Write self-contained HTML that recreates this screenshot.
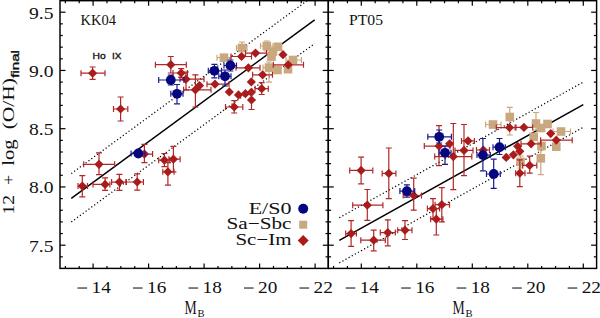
<!DOCTYPE html>
<html><head><meta charset="utf-8"><style>
html,body{margin:0;padding:0;background:#fff;width:600px;height:318px;overflow:hidden}
svg{display:block}
.t{font-family:"Liberation Serif",serif;fill:#111}
.s{font-family:"Liberation Sans",sans-serif;fill:#111;stroke:#111;stroke-width:0.35}
</style></head><body>
<svg width="600" height="318" viewBox="0 0 600 318">
<rect width="600" height="318" fill="#fff"/>
<defs>
<clipPath id="cl"><rect x="60" y="0.7" width="268.3" height="267.7"/></clipPath>
<clipPath id="cr"><rect x="328.3" y="0.7" width="268.3" height="267.7"/></clipPath>
</defs>
<g clip-path="url(#cl)">
<line x1="71.3" y1="198.3" x2="314.7" y2="19.8" stroke="#000" stroke-width="1.5"/><line x1="71.3" y1="173.60000000000002" x2="314.7" y2="-4.899999999999999" stroke="#000" stroke-width="1.25" stroke-dasharray="1.2 2.35"/><line x1="71.3" y1="222.0" x2="314.7" y2="43.5" stroke="#000" stroke-width="1.25" stroke-dasharray="1.2 2.35"/>
<line x1="236.50" y1="48.00" x2="247.00" y2="48.00" stroke="#c9a77f" stroke-width="1.2" /><line x1="236.50" y1="45.00" x2="236.50" y2="51.00" stroke="#c9a77f" stroke-width="1.2" /><line x1="247.00" y1="45.00" x2="247.00" y2="51.00" stroke="#c9a77f" stroke-width="1.2" /><line x1="242.00" y1="42.00" x2="242.00" y2="55.00" stroke="#c9a77f" stroke-width="1.2" /><line x1="239.00" y1="42.00" x2="245.00" y2="42.00" stroke="#c9a77f" stroke-width="1.2" /><line x1="239.00" y1="55.00" x2="245.00" y2="55.00" stroke="#c9a77f" stroke-width="1.2" /><rect x="237.70" y="43.70" width="8.60" height="8.60" fill="#c9a77f"/><line x1="260.50" y1="46.00" x2="273.00" y2="46.00" stroke="#c9a77f" stroke-width="1.2" /><line x1="260.50" y1="43.00" x2="260.50" y2="49.00" stroke="#c9a77f" stroke-width="1.2" /><line x1="273.00" y1="43.00" x2="273.00" y2="49.00" stroke="#c9a77f" stroke-width="1.2" /><line x1="266.80" y1="41.00" x2="266.80" y2="51.00" stroke="#c9a77f" stroke-width="1.2" /><line x1="263.80" y1="41.00" x2="269.80" y2="41.00" stroke="#c9a77f" stroke-width="1.2" /><line x1="263.80" y1="51.00" x2="269.80" y2="51.00" stroke="#c9a77f" stroke-width="1.2" /><rect x="262.50" y="41.70" width="8.60" height="8.60" fill="#c9a77f"/><rect x="273.70" y="42.50" width="8.60" height="8.60" fill="#c9a77f"/><rect x="267.20" y="52.30" width="8.60" height="8.60" fill="#c9a77f"/><rect x="268.70" y="47.20" width="8.60" height="8.60" fill="#c9a77f"/><line x1="263.00" y1="67.60" x2="275.00" y2="67.60" stroke="#c9a77f" stroke-width="1.2" /><line x1="263.00" y1="64.60" x2="263.00" y2="70.60" stroke="#c9a77f" stroke-width="1.2" /><line x1="275.00" y1="64.60" x2="275.00" y2="70.60" stroke="#c9a77f" stroke-width="1.2" /><line x1="269.00" y1="62.00" x2="269.00" y2="82.20" stroke="#c9a77f" stroke-width="1.2" /><line x1="266.00" y1="62.00" x2="272.00" y2="62.00" stroke="#c9a77f" stroke-width="1.2" /><line x1="266.00" y1="82.20" x2="272.00" y2="82.20" stroke="#c9a77f" stroke-width="1.2" /><rect x="264.70" y="63.30" width="8.60" height="8.60" fill="#c9a77f"/><rect x="273.20" y="65.70" width="8.60" height="8.60" fill="#c9a77f"/><line x1="286.00" y1="60.00" x2="301.40" y2="60.00" stroke="#c9a77f" stroke-width="1.2" /><line x1="286.00" y1="57.00" x2="286.00" y2="63.00" stroke="#c9a77f" stroke-width="1.2" /><line x1="301.40" y1="57.00" x2="301.40" y2="63.00" stroke="#c9a77f" stroke-width="1.2" /><rect x="288.70" y="55.70" width="8.60" height="8.60" fill="#c9a77f"/><rect x="283.70" y="64.90" width="8.60" height="8.60" fill="#c9a77f"/><line x1="217.00" y1="57.70" x2="231.00" y2="57.70" stroke="#c9a77f" stroke-width="1.2" /><line x1="217.00" y1="54.70" x2="217.00" y2="60.70" stroke="#c9a77f" stroke-width="1.2" /><line x1="231.00" y1="54.70" x2="231.00" y2="60.70" stroke="#c9a77f" stroke-width="1.2" /><rect x="219.70" y="53.40" width="8.60" height="8.60" fill="#c9a77f"/><line x1="81.00" y1="73.20" x2="105.00" y2="73.20" stroke="#b02828" stroke-width="1.2" /><line x1="81.00" y1="70.20" x2="81.00" y2="76.20" stroke="#b02828" stroke-width="1.2" /><line x1="105.00" y1="70.20" x2="105.00" y2="76.20" stroke="#b02828" stroke-width="1.2" /><line x1="92.60" y1="67.00" x2="92.60" y2="79.40" stroke="#b02828" stroke-width="1.2" /><line x1="89.60" y1="67.00" x2="95.60" y2="67.00" stroke="#b02828" stroke-width="1.2" /><line x1="89.60" y1="79.40" x2="95.60" y2="79.40" stroke="#b02828" stroke-width="1.2" /><path d="M92.60 68.60L97.20 73.20L92.60 77.80L88.00 73.20Z" fill="#aa1c1c"/><line x1="113.50" y1="109.00" x2="127.80" y2="109.00" stroke="#b02828" stroke-width="1.2" /><line x1="113.50" y1="106.00" x2="113.50" y2="112.00" stroke="#b02828" stroke-width="1.2" /><line x1="127.80" y1="106.00" x2="127.80" y2="112.00" stroke="#b02828" stroke-width="1.2" /><line x1="120.60" y1="97.00" x2="120.60" y2="121.00" stroke="#b02828" stroke-width="1.2" /><line x1="117.60" y1="97.00" x2="123.60" y2="97.00" stroke="#b02828" stroke-width="1.2" /><line x1="117.60" y1="121.00" x2="123.60" y2="121.00" stroke="#b02828" stroke-width="1.2" /><path d="M120.60 104.40L125.20 109.00L120.60 113.60L116.00 109.00Z" fill="#aa1c1c"/><line x1="83.70" y1="164.30" x2="114.70" y2="164.30" stroke="#b02828" stroke-width="1.2" /><line x1="83.70" y1="161.30" x2="83.70" y2="167.30" stroke="#b02828" stroke-width="1.2" /><line x1="114.70" y1="161.30" x2="114.70" y2="167.30" stroke="#b02828" stroke-width="1.2" /><line x1="99.00" y1="152.80" x2="99.00" y2="174.70" stroke="#b02828" stroke-width="1.2" /><line x1="96.00" y1="152.80" x2="102.00" y2="152.80" stroke="#b02828" stroke-width="1.2" /><line x1="96.00" y1="174.70" x2="102.00" y2="174.70" stroke="#b02828" stroke-width="1.2" /><path d="M99.00 159.70L103.60 164.30L99.00 168.90L94.40 164.30Z" fill="#aa1c1c"/><line x1="78.00" y1="186.10" x2="87.50" y2="186.10" stroke="#b02828" stroke-width="1.2" /><line x1="78.00" y1="183.10" x2="78.00" y2="189.10" stroke="#b02828" stroke-width="1.2" /><line x1="87.50" y1="183.10" x2="87.50" y2="189.10" stroke="#b02828" stroke-width="1.2" /><line x1="82.30" y1="175.70" x2="82.30" y2="196.80" stroke="#b02828" stroke-width="1.2" /><line x1="79.30" y1="175.70" x2="85.30" y2="175.70" stroke="#b02828" stroke-width="1.2" /><line x1="79.30" y1="196.80" x2="85.30" y2="196.80" stroke="#b02828" stroke-width="1.2" /><path d="M82.30 181.50L86.90 186.10L82.30 190.70L77.70 186.10Z" fill="#aa1c1c"/><line x1="93.00" y1="184.40" x2="109.90" y2="184.40" stroke="#b02828" stroke-width="1.2" /><line x1="93.00" y1="181.40" x2="93.00" y2="187.40" stroke="#b02828" stroke-width="1.2" /><line x1="109.90" y1="181.40" x2="109.90" y2="187.40" stroke="#b02828" stroke-width="1.2" /><line x1="105.10" y1="177.80" x2="105.10" y2="190.30" stroke="#b02828" stroke-width="1.2" /><line x1="102.10" y1="177.80" x2="108.10" y2="177.80" stroke="#b02828" stroke-width="1.2" /><line x1="102.10" y1="190.30" x2="108.10" y2="190.30" stroke="#b02828" stroke-width="1.2" /><path d="M105.10 179.80L109.70 184.40L105.10 189.00L100.50 184.40Z" fill="#aa1c1c"/><line x1="111.60" y1="182.10" x2="126.30" y2="182.10" stroke="#b02828" stroke-width="1.2" /><line x1="111.60" y1="179.10" x2="111.60" y2="185.10" stroke="#b02828" stroke-width="1.2" /><line x1="126.30" y1="179.10" x2="126.30" y2="185.10" stroke="#b02828" stroke-width="1.2" /><line x1="119.40" y1="174.40" x2="119.40" y2="190.30" stroke="#b02828" stroke-width="1.2" /><line x1="116.40" y1="174.40" x2="122.40" y2="174.40" stroke="#b02828" stroke-width="1.2" /><line x1="116.40" y1="190.30" x2="122.40" y2="190.30" stroke="#b02828" stroke-width="1.2" /><path d="M119.40 177.50L124.00 182.10L119.40 186.70L114.80 182.10Z" fill="#aa1c1c"/><line x1="126.00" y1="182.00" x2="143.40" y2="182.00" stroke="#b02828" stroke-width="1.2" /><line x1="126.00" y1="179.00" x2="126.00" y2="185.00" stroke="#b02828" stroke-width="1.2" /><line x1="143.40" y1="179.00" x2="143.40" y2="185.00" stroke="#b02828" stroke-width="1.2" /><line x1="137.20" y1="173.90" x2="137.20" y2="190.20" stroke="#b02828" stroke-width="1.2" /><line x1="134.20" y1="173.90" x2="140.20" y2="173.90" stroke="#b02828" stroke-width="1.2" /><line x1="134.20" y1="190.20" x2="140.20" y2="190.20" stroke="#b02828" stroke-width="1.2" /><path d="M137.20 177.40L141.80 182.00L137.20 186.60L132.60 182.00Z" fill="#aa1c1c"/><line x1="136.00" y1="154.10" x2="152.60" y2="154.10" stroke="#b02828" stroke-width="1.2" /><line x1="136.00" y1="151.10" x2="136.00" y2="157.10" stroke="#b02828" stroke-width="1.2" /><line x1="152.60" y1="151.10" x2="152.60" y2="157.10" stroke="#b02828" stroke-width="1.2" /><line x1="144.40" y1="144.30" x2="144.40" y2="162.70" stroke="#b02828" stroke-width="1.2" /><line x1="141.40" y1="144.30" x2="147.40" y2="144.30" stroke="#b02828" stroke-width="1.2" /><line x1="141.40" y1="162.70" x2="147.40" y2="162.70" stroke="#b02828" stroke-width="1.2" /><path d="M144.40 149.50L149.00 154.10L144.40 158.70L139.80 154.10Z" fill="#aa1c1c"/><line x1="158.70" y1="160.20" x2="169.90" y2="160.20" stroke="#b02828" stroke-width="1.2" /><line x1="158.70" y1="157.20" x2="158.70" y2="163.20" stroke="#b02828" stroke-width="1.2" /><line x1="169.90" y1="157.20" x2="169.90" y2="163.20" stroke="#b02828" stroke-width="1.2" /><line x1="164.40" y1="153.50" x2="164.40" y2="166.70" stroke="#b02828" stroke-width="1.2" /><line x1="161.40" y1="153.50" x2="167.40" y2="153.50" stroke="#b02828" stroke-width="1.2" /><line x1="161.40" y1="166.70" x2="167.40" y2="166.70" stroke="#b02828" stroke-width="1.2" /><path d="M164.40 155.60L169.00 160.20L164.40 164.80L159.80 160.20Z" fill="#aa1c1c"/><line x1="168.90" y1="159.20" x2="180.10" y2="159.20" stroke="#b02828" stroke-width="1.2" /><line x1="168.90" y1="156.20" x2="168.90" y2="162.20" stroke="#b02828" stroke-width="1.2" /><line x1="180.10" y1="156.20" x2="180.10" y2="162.20" stroke="#b02828" stroke-width="1.2" /><line x1="173.40" y1="146.30" x2="173.40" y2="171.80" stroke="#b02828" stroke-width="1.2" /><line x1="170.40" y1="146.30" x2="176.40" y2="146.30" stroke="#b02828" stroke-width="1.2" /><line x1="170.40" y1="171.80" x2="176.40" y2="171.80" stroke="#b02828" stroke-width="1.2" /><path d="M173.40 154.60L178.00 159.20L173.40 163.80L168.80 159.20Z" fill="#aa1c1c"/><line x1="162.80" y1="171.80" x2="174.00" y2="171.80" stroke="#b02828" stroke-width="1.2" /><line x1="162.80" y1="168.80" x2="162.80" y2="174.80" stroke="#b02828" stroke-width="1.2" /><line x1="174.00" y1="168.80" x2="174.00" y2="174.80" stroke="#b02828" stroke-width="1.2" /><line x1="167.90" y1="162.70" x2="167.90" y2="185.10" stroke="#b02828" stroke-width="1.2" /><line x1="164.90" y1="162.70" x2="170.90" y2="162.70" stroke="#b02828" stroke-width="1.2" /><line x1="164.90" y1="185.10" x2="170.90" y2="185.10" stroke="#b02828" stroke-width="1.2" /><path d="M167.90 167.20L172.50 171.80L167.90 176.40L163.30 171.80Z" fill="#aa1c1c"/><line x1="155.40" y1="64.70" x2="186.30" y2="64.70" stroke="#b02828" stroke-width="1.2" /><line x1="155.40" y1="61.70" x2="155.40" y2="67.70" stroke="#b02828" stroke-width="1.2" /><line x1="186.30" y1="61.70" x2="186.30" y2="67.70" stroke="#b02828" stroke-width="1.2" /><line x1="170.80" y1="56.50" x2="170.80" y2="73.00" stroke="#b02828" stroke-width="1.2" /><line x1="167.80" y1="56.50" x2="173.80" y2="56.50" stroke="#b02828" stroke-width="1.2" /><line x1="167.80" y1="73.00" x2="173.80" y2="73.00" stroke="#b02828" stroke-width="1.2" /><path d="M170.80 60.10L175.40 64.70L170.80 69.30L166.20 64.70Z" fill="#aa1c1c"/><line x1="173.00" y1="73.00" x2="187.40" y2="73.00" stroke="#b02828" stroke-width="1.2" /><line x1="173.00" y1="70.00" x2="173.00" y2="76.00" stroke="#b02828" stroke-width="1.2" /><line x1="187.40" y1="70.00" x2="187.40" y2="76.00" stroke="#b02828" stroke-width="1.2" /><line x1="181.20" y1="68.60" x2="181.20" y2="77.40" stroke="#b02828" stroke-width="1.2" /><line x1="178.20" y1="68.60" x2="184.20" y2="68.60" stroke="#b02828" stroke-width="1.2" /><line x1="178.20" y1="77.40" x2="184.20" y2="77.40" stroke="#b02828" stroke-width="1.2" /><path d="M181.20 68.40L185.80 73.00L181.20 77.60L176.60 73.00Z" fill="#aa1c1c"/><line x1="180.00" y1="79.20" x2="204.00" y2="79.20" stroke="#b02828" stroke-width="1.2" /><line x1="180.00" y1="76.20" x2="180.00" y2="82.20" stroke="#b02828" stroke-width="1.2" /><line x1="204.00" y1="76.20" x2="204.00" y2="82.20" stroke="#b02828" stroke-width="1.2" /><line x1="186.00" y1="72.00" x2="186.00" y2="90.00" stroke="#b02828" stroke-width="1.2" /><line x1="183.00" y1="72.00" x2="189.00" y2="72.00" stroke="#b02828" stroke-width="1.2" /><line x1="183.00" y1="90.00" x2="189.00" y2="90.00" stroke="#b02828" stroke-width="1.2" /><path d="M186.00 74.60L190.60 79.20L186.00 83.80L181.40 79.20Z" fill="#aa1c1c"/><line x1="183.60" y1="89.80" x2="211.00" y2="89.80" stroke="#b02828" stroke-width="1.2" /><line x1="183.60" y1="86.80" x2="183.60" y2="92.80" stroke="#b02828" stroke-width="1.2" /><line x1="211.00" y1="86.80" x2="211.00" y2="92.80" stroke="#b02828" stroke-width="1.2" /><line x1="195.40" y1="74.80" x2="195.40" y2="107.00" stroke="#b02828" stroke-width="1.2" /><line x1="192.40" y1="74.80" x2="198.40" y2="74.80" stroke="#b02828" stroke-width="1.2" /><line x1="192.40" y1="107.00" x2="198.40" y2="107.00" stroke="#b02828" stroke-width="1.2" /><path d="M195.40 85.20L200.00 89.80L195.40 94.40L190.80 89.80Z" fill="#aa1c1c"/><path d="M199.50 81.00L204.10 85.60L199.50 90.20L194.90 85.60Z" fill="#aa1c1c"/><line x1="207.00" y1="84.20" x2="229.00" y2="84.20" stroke="#b02828" stroke-width="1.2" /><line x1="207.00" y1="81.20" x2="207.00" y2="87.20" stroke="#b02828" stroke-width="1.2" /><line x1="229.00" y1="81.20" x2="229.00" y2="87.20" stroke="#b02828" stroke-width="1.2" /><path d="M215.00 79.60L219.60 84.20L215.00 88.80L210.40 84.20Z" fill="#aa1c1c"/><line x1="231.00" y1="56.50" x2="251.50" y2="56.50" stroke="#b02828" stroke-width="1.2" /><line x1="231.00" y1="53.50" x2="231.00" y2="59.50" stroke="#b02828" stroke-width="1.2" /><line x1="251.50" y1="53.50" x2="251.50" y2="59.50" stroke="#b02828" stroke-width="1.2" /><path d="M241.50 51.90L246.10 56.50L241.50 61.10L236.90 56.50Z" fill="#aa1c1c"/><line x1="245.50" y1="53.10" x2="266.50" y2="53.10" stroke="#b02828" stroke-width="1.2" /><line x1="245.50" y1="50.10" x2="245.50" y2="56.10" stroke="#b02828" stroke-width="1.2" /><line x1="266.50" y1="50.10" x2="266.50" y2="56.10" stroke="#b02828" stroke-width="1.2" /><path d="M255.50 48.50L260.10 53.10L255.50 57.70L250.90 53.10Z" fill="#aa1c1c"/><line x1="236.00" y1="67.80" x2="260.00" y2="67.80" stroke="#b02828" stroke-width="1.2" /><line x1="236.00" y1="64.80" x2="236.00" y2="70.80" stroke="#b02828" stroke-width="1.2" /><line x1="260.00" y1="64.80" x2="260.00" y2="70.80" stroke="#b02828" stroke-width="1.2" /><path d="M248.40 63.20L253.00 67.80L248.40 72.40L243.80 67.80Z" fill="#aa1c1c"/><line x1="252.60" y1="74.80" x2="272.50" y2="74.80" stroke="#b02828" stroke-width="1.2" /><line x1="252.60" y1="71.80" x2="252.60" y2="77.80" stroke="#b02828" stroke-width="1.2" /><line x1="272.50" y1="71.80" x2="272.50" y2="77.80" stroke="#b02828" stroke-width="1.2" /><path d="M262.60 70.20L267.20 74.80L262.60 79.40L258.00 74.80Z" fill="#aa1c1c"/><path d="M251.30 77.30L255.90 81.90L251.30 86.50L246.70 81.90Z" fill="#aa1c1c"/><line x1="255.00" y1="88.70" x2="268.30" y2="88.70" stroke="#b02828" stroke-width="1.2" /><line x1="255.00" y1="85.70" x2="255.00" y2="91.70" stroke="#b02828" stroke-width="1.2" /><line x1="268.30" y1="85.70" x2="268.30" y2="91.70" stroke="#b02828" stroke-width="1.2" /><line x1="261.70" y1="82.70" x2="261.70" y2="94.50" stroke="#b02828" stroke-width="1.2" /><line x1="258.70" y1="82.70" x2="264.70" y2="82.70" stroke="#b02828" stroke-width="1.2" /><line x1="258.70" y1="94.50" x2="264.70" y2="94.50" stroke="#b02828" stroke-width="1.2" /><path d="M261.70 84.10L266.30 88.70L261.70 93.30L257.10 88.70Z" fill="#aa1c1c"/><path d="M229.30 87.30L233.90 91.90L229.30 96.50L224.70 91.90Z" fill="#aa1c1c"/><path d="M238.50 90.30L243.10 94.90L238.50 99.50L233.90 94.90Z" fill="#aa1c1c"/><path d="M245.40 89.10L250.00 93.70L245.40 98.30L240.80 93.70Z" fill="#aa1c1c"/><path d="M251.30 87.70L255.90 92.30L251.30 96.90L246.70 92.30Z" fill="#aa1c1c"/><line x1="251.50" y1="92.00" x2="251.50" y2="109.50" stroke="#b02828" stroke-width="1.2" /><line x1="248.50" y1="92.00" x2="254.50" y2="92.00" stroke="#b02828" stroke-width="1.2" /><line x1="248.50" y1="109.50" x2="254.50" y2="109.50" stroke="#b02828" stroke-width="1.2" /><path d="M251.50 95.40L256.10 100.00L251.50 104.60L246.90 100.00Z" fill="#aa1c1c"/><line x1="225.50" y1="107.00" x2="242.80" y2="107.00" stroke="#b02828" stroke-width="1.2" /><line x1="225.50" y1="104.00" x2="225.50" y2="110.00" stroke="#b02828" stroke-width="1.2" /><line x1="242.80" y1="104.00" x2="242.80" y2="110.00" stroke="#b02828" stroke-width="1.2" /><line x1="234.20" y1="100.60" x2="234.20" y2="113.00" stroke="#b02828" stroke-width="1.2" /><line x1="231.20" y1="100.60" x2="237.20" y2="100.60" stroke="#b02828" stroke-width="1.2" /><line x1="231.20" y1="113.00" x2="237.20" y2="113.00" stroke="#b02828" stroke-width="1.2" /><path d="M234.20 102.40L238.80 107.00L234.20 111.60L229.60 107.00Z" fill="#aa1c1c"/><path d="M283.00 50.10L287.60 54.70L283.00 59.30L278.40 54.70Z" fill="#aa1c1c"/><line x1="273.30" y1="64.80" x2="303.50" y2="64.80" stroke="#b02828" stroke-width="1.2" /><line x1="273.30" y1="61.80" x2="273.30" y2="67.80" stroke="#b02828" stroke-width="1.2" /><line x1="303.50" y1="61.80" x2="303.50" y2="67.80" stroke="#b02828" stroke-width="1.2" /><path d="M288.20 60.20L292.80 64.80L288.20 69.40L283.60 64.80Z" fill="#aa1c1c"/><line x1="131.10" y1="153.50" x2="145.00" y2="153.50" stroke="#1a1a8c" stroke-width="1.2" /><line x1="131.10" y1="150.50" x2="131.10" y2="156.50" stroke="#1a1a8c" stroke-width="1.2" /><line x1="145.00" y1="150.50" x2="145.00" y2="156.50" stroke="#1a1a8c" stroke-width="1.2" /><circle cx="138.30" cy="153.50" r="4.9" fill="#06067e"/><line x1="158.70" y1="80.00" x2="184.00" y2="80.00" stroke="#1a1a8c" stroke-width="1.2" /><line x1="158.70" y1="77.00" x2="158.70" y2="83.00" stroke="#1a1a8c" stroke-width="1.2" /><line x1="184.00" y1="77.00" x2="184.00" y2="83.00" stroke="#1a1a8c" stroke-width="1.2" /><line x1="170.80" y1="75.00" x2="170.80" y2="85.00" stroke="#1a1a8c" stroke-width="1.2" /><line x1="167.80" y1="75.00" x2="173.80" y2="75.00" stroke="#1a1a8c" stroke-width="1.2" /><line x1="167.80" y1="85.00" x2="173.80" y2="85.00" stroke="#1a1a8c" stroke-width="1.2" /><circle cx="170.80" cy="80.00" r="4.9" fill="#06067e"/><line x1="170.80" y1="93.80" x2="183.00" y2="93.80" stroke="#1a1a8c" stroke-width="1.2" /><line x1="170.80" y1="90.80" x2="170.80" y2="96.80" stroke="#1a1a8c" stroke-width="1.2" /><line x1="183.00" y1="90.80" x2="183.00" y2="96.80" stroke="#1a1a8c" stroke-width="1.2" /><line x1="177.00" y1="84.50" x2="177.00" y2="103.80" stroke="#1a1a8c" stroke-width="1.2" /><line x1="174.00" y1="84.50" x2="180.00" y2="84.50" stroke="#1a1a8c" stroke-width="1.2" /><line x1="174.00" y1="103.80" x2="180.00" y2="103.80" stroke="#1a1a8c" stroke-width="1.2" /><circle cx="177.00" cy="93.80" r="4.9" fill="#06067e"/><line x1="208.30" y1="70.80" x2="221.50" y2="70.80" stroke="#1a1a8c" stroke-width="1.2" /><line x1="208.30" y1="67.80" x2="208.30" y2="73.80" stroke="#1a1a8c" stroke-width="1.2" /><line x1="221.50" y1="67.80" x2="221.50" y2="73.80" stroke="#1a1a8c" stroke-width="1.2" /><line x1="214.40" y1="64.40" x2="214.40" y2="77.80" stroke="#1a1a8c" stroke-width="1.2" /><line x1="211.40" y1="64.40" x2="217.40" y2="64.40" stroke="#1a1a8c" stroke-width="1.2" /><line x1="211.40" y1="77.80" x2="217.40" y2="77.80" stroke="#1a1a8c" stroke-width="1.2" /><circle cx="214.40" cy="70.80" r="4.9" fill="#06067e"/><line x1="218.80" y1="76.30" x2="231.00" y2="76.30" stroke="#1a1a8c" stroke-width="1.2" /><line x1="218.80" y1="73.30" x2="218.80" y2="79.30" stroke="#1a1a8c" stroke-width="1.2" /><line x1="231.00" y1="73.30" x2="231.00" y2="79.30" stroke="#1a1a8c" stroke-width="1.2" /><line x1="225.00" y1="70.00" x2="225.00" y2="86.00" stroke="#1a1a8c" stroke-width="1.2" /><line x1="222.00" y1="70.00" x2="228.00" y2="70.00" stroke="#1a1a8c" stroke-width="1.2" /><line x1="222.00" y1="86.00" x2="228.00" y2="86.00" stroke="#1a1a8c" stroke-width="1.2" /><circle cx="225.00" cy="76.30" r="4.9" fill="#06067e"/><line x1="224.00" y1="65.50" x2="236.50" y2="65.50" stroke="#1a1a8c" stroke-width="1.2" /><line x1="224.00" y1="62.50" x2="224.00" y2="68.50" stroke="#1a1a8c" stroke-width="1.2" /><line x1="236.50" y1="62.50" x2="236.50" y2="68.50" stroke="#1a1a8c" stroke-width="1.2" /><line x1="230.40" y1="60.00" x2="230.40" y2="71.00" stroke="#1a1a8c" stroke-width="1.2" /><line x1="227.40" y1="60.00" x2="233.40" y2="60.00" stroke="#1a1a8c" stroke-width="1.2" /><line x1="227.40" y1="71.00" x2="233.40" y2="71.00" stroke="#1a1a8c" stroke-width="1.2" /><circle cx="230.40" cy="65.50" r="4.9" fill="#06067e"/>
</g>
<g clip-path="url(#cr)">
<line x1="339.3" y1="240.3" x2="583.3" y2="104.7" stroke="#000" stroke-width="1.5"/><line x1="339.3" y1="217.70000000000002" x2="583.3" y2="82.1" stroke="#000" stroke-width="1.25" stroke-dasharray="1.2 2.35"/><line x1="339.3" y1="262.90000000000003" x2="583.3" y2="127.30000000000001" stroke="#000" stroke-width="1.25" stroke-dasharray="1.2 2.35"/>
<line x1="485.60" y1="124.50" x2="501.00" y2="124.50" stroke="#c9a77f" stroke-width="1.2" /><line x1="485.60" y1="121.50" x2="485.60" y2="127.50" stroke="#c9a77f" stroke-width="1.2" /><line x1="501.00" y1="121.50" x2="501.00" y2="127.50" stroke="#c9a77f" stroke-width="1.2" /><rect x="488.70" y="120.20" width="8.60" height="8.60" fill="#c9a77f"/><line x1="509.80" y1="107.30" x2="509.80" y2="135.00" stroke="#c9a77f" stroke-width="1.2" /><line x1="506.80" y1="107.30" x2="512.80" y2="107.30" stroke="#c9a77f" stroke-width="1.2" /><line x1="506.80" y1="135.00" x2="512.80" y2="135.00" stroke="#c9a77f" stroke-width="1.2" /><rect x="505.50" y="112.70" width="8.60" height="8.60" fill="#c9a77f"/><line x1="536.00" y1="112.50" x2="536.00" y2="130.00" stroke="#c9a77f" stroke-width="1.2" /><line x1="533.00" y1="112.50" x2="539.00" y2="112.50" stroke="#c9a77f" stroke-width="1.2" /><line x1="533.00" y1="130.00" x2="539.00" y2="130.00" stroke="#c9a77f" stroke-width="1.2" /><rect x="531.70" y="119.20" width="8.60" height="8.60" fill="#c9a77f"/><rect x="536.70" y="123.70" width="8.60" height="8.60" fill="#c9a77f"/><rect x="543.20" y="119.70" width="8.60" height="8.60" fill="#c9a77f"/><rect x="529.40" y="132.50" width="8.60" height="8.60" fill="#c9a77f"/><rect x="537.20" y="141.70" width="8.60" height="8.60" fill="#c9a77f"/><rect x="552.00" y="142.40" width="8.60" height="8.60" fill="#c9a77f"/><line x1="540.80" y1="150.00" x2="540.80" y2="174.60" stroke="#c9a77f" stroke-width="1.2" /><line x1="537.80" y1="150.00" x2="543.80" y2="150.00" stroke="#c9a77f" stroke-width="1.2" /><line x1="537.80" y1="174.60" x2="543.80" y2="174.60" stroke="#c9a77f" stroke-width="1.2" /><rect x="536.50" y="154.00" width="8.60" height="8.60" fill="#c9a77f"/><line x1="553.00" y1="131.50" x2="570.50" y2="131.50" stroke="#c9a77f" stroke-width="1.2" /><line x1="553.00" y1="128.50" x2="553.00" y2="134.50" stroke="#c9a77f" stroke-width="1.2" /><line x1="570.50" y1="128.50" x2="570.50" y2="134.50" stroke="#c9a77f" stroke-width="1.2" /><rect x="556.70" y="127.20" width="8.60" height="8.60" fill="#c9a77f"/><line x1="520.50" y1="156.00" x2="520.50" y2="168.00" stroke="#c9a77f" stroke-width="1.2" /><line x1="517.50" y1="156.00" x2="523.50" y2="156.00" stroke="#c9a77f" stroke-width="1.2" /><line x1="517.50" y1="168.00" x2="523.50" y2="168.00" stroke="#c9a77f" stroke-width="1.2" /><rect x="516.20" y="157.60" width="8.60" height="8.60" fill="#c9a77f"/><line x1="349.70" y1="170.40" x2="372.80" y2="170.40" stroke="#b02828" stroke-width="1.2" /><line x1="349.70" y1="167.40" x2="349.70" y2="173.40" stroke="#b02828" stroke-width="1.2" /><line x1="372.80" y1="167.40" x2="372.80" y2="173.40" stroke="#b02828" stroke-width="1.2" /><line x1="361.10" y1="157.10" x2="361.10" y2="183.80" stroke="#b02828" stroke-width="1.2" /><line x1="358.10" y1="157.10" x2="364.10" y2="157.10" stroke="#b02828" stroke-width="1.2" /><line x1="358.10" y1="183.80" x2="364.10" y2="183.80" stroke="#b02828" stroke-width="1.2" /><path d="M361.10 165.80L365.70 170.40L361.10 175.00L356.50 170.40Z" fill="#aa1c1c"/><line x1="382.20" y1="173.40" x2="395.90" y2="173.40" stroke="#b02828" stroke-width="1.2" /><line x1="382.20" y1="170.40" x2="382.20" y2="176.40" stroke="#b02828" stroke-width="1.2" /><line x1="395.90" y1="170.40" x2="395.90" y2="176.40" stroke="#b02828" stroke-width="1.2" /><line x1="388.80" y1="148.00" x2="388.80" y2="198.70" stroke="#b02828" stroke-width="1.2" /><line x1="385.80" y1="148.00" x2="391.80" y2="148.00" stroke="#b02828" stroke-width="1.2" /><line x1="385.80" y1="198.70" x2="391.80" y2="198.70" stroke="#b02828" stroke-width="1.2" /><path d="M388.80 168.80L393.40 173.40L388.80 178.00L384.20 173.40Z" fill="#aa1c1c"/><line x1="352.70" y1="205.20" x2="382.90" y2="205.20" stroke="#b02828" stroke-width="1.2" /><line x1="352.70" y1="202.20" x2="352.70" y2="208.20" stroke="#b02828" stroke-width="1.2" /><line x1="382.90" y1="202.20" x2="382.90" y2="208.20" stroke="#b02828" stroke-width="1.2" /><line x1="367.30" y1="189.50" x2="367.30" y2="220.30" stroke="#b02828" stroke-width="1.2" /><line x1="364.30" y1="189.50" x2="370.30" y2="189.50" stroke="#b02828" stroke-width="1.2" /><line x1="364.30" y1="220.30" x2="370.30" y2="220.30" stroke="#b02828" stroke-width="1.2" /><path d="M367.30 200.60L371.90 205.20L367.30 209.80L362.70 205.20Z" fill="#aa1c1c"/><line x1="345.70" y1="233.60" x2="356.40" y2="233.60" stroke="#b02828" stroke-width="1.2" /><line x1="345.70" y1="230.60" x2="345.70" y2="236.60" stroke="#b02828" stroke-width="1.2" /><line x1="356.40" y1="230.60" x2="356.40" y2="236.60" stroke="#b02828" stroke-width="1.2" /><line x1="351.10" y1="220.70" x2="351.10" y2="246.40" stroke="#b02828" stroke-width="1.2" /><line x1="348.10" y1="220.70" x2="354.10" y2="220.70" stroke="#b02828" stroke-width="1.2" /><line x1="348.10" y1="246.40" x2="354.10" y2="246.40" stroke="#b02828" stroke-width="1.2" /><path d="M351.10 229.00L355.70 233.60L351.10 238.20L346.50 233.60Z" fill="#aa1c1c"/><line x1="360.80" y1="240.20" x2="385.30" y2="240.20" stroke="#b02828" stroke-width="1.2" /><line x1="360.80" y1="237.20" x2="360.80" y2="243.20" stroke="#b02828" stroke-width="1.2" /><line x1="385.30" y1="237.20" x2="385.30" y2="243.20" stroke="#b02828" stroke-width="1.2" /><line x1="373.70" y1="230.10" x2="373.70" y2="250.80" stroke="#b02828" stroke-width="1.2" /><line x1="370.70" y1="230.10" x2="376.70" y2="230.10" stroke="#b02828" stroke-width="1.2" /><line x1="370.70" y1="250.80" x2="376.70" y2="250.80" stroke="#b02828" stroke-width="1.2" /><path d="M373.70 235.60L378.30 240.20L373.70 244.80L369.10 240.20Z" fill="#aa1c1c"/><line x1="380.30" y1="232.60" x2="395.30" y2="232.60" stroke="#b02828" stroke-width="1.2" /><line x1="380.30" y1="229.60" x2="380.30" y2="235.60" stroke="#b02828" stroke-width="1.2" /><line x1="395.30" y1="229.60" x2="395.30" y2="235.60" stroke="#b02828" stroke-width="1.2" /><line x1="387.80" y1="219.80" x2="387.80" y2="245.80" stroke="#b02828" stroke-width="1.2" /><line x1="384.80" y1="219.80" x2="390.80" y2="219.80" stroke="#b02828" stroke-width="1.2" /><line x1="384.80" y1="245.80" x2="390.80" y2="245.80" stroke="#b02828" stroke-width="1.2" /><path d="M387.80 228.00L392.40 232.60L387.80 237.20L383.20 232.60Z" fill="#aa1c1c"/><line x1="397.70" y1="230.20" x2="412.00" y2="230.20" stroke="#b02828" stroke-width="1.2" /><line x1="397.70" y1="227.20" x2="397.70" y2="233.20" stroke="#b02828" stroke-width="1.2" /><line x1="412.00" y1="227.20" x2="412.00" y2="233.20" stroke="#b02828" stroke-width="1.2" /><line x1="405.00" y1="220.70" x2="405.00" y2="239.50" stroke="#b02828" stroke-width="1.2" /><line x1="402.00" y1="220.70" x2="408.00" y2="220.70" stroke="#b02828" stroke-width="1.2" /><line x1="402.00" y1="239.50" x2="408.00" y2="239.50" stroke="#b02828" stroke-width="1.2" /><path d="M405.00 225.60L409.60 230.20L405.00 234.80L400.40 230.20Z" fill="#aa1c1c"/><line x1="403.20" y1="195.50" x2="421.50" y2="195.50" stroke="#b02828" stroke-width="1.2" /><line x1="403.20" y1="192.50" x2="403.20" y2="198.50" stroke="#b02828" stroke-width="1.2" /><line x1="421.50" y1="192.50" x2="421.50" y2="198.50" stroke="#b02828" stroke-width="1.2" /><line x1="413.70" y1="178.20" x2="413.70" y2="210.20" stroke="#b02828" stroke-width="1.2" /><line x1="410.70" y1="178.20" x2="416.70" y2="178.20" stroke="#b02828" stroke-width="1.2" /><line x1="410.70" y1="210.20" x2="416.70" y2="210.20" stroke="#b02828" stroke-width="1.2" /><path d="M413.70 190.90L418.30 195.50L413.70 200.10L409.10 195.50Z" fill="#aa1c1c"/><line x1="427.40" y1="208.60" x2="439.60" y2="208.60" stroke="#b02828" stroke-width="1.2" /><line x1="427.40" y1="205.60" x2="427.40" y2="211.60" stroke="#b02828" stroke-width="1.2" /><line x1="439.60" y1="205.60" x2="439.60" y2="211.60" stroke="#b02828" stroke-width="1.2" /><line x1="433.00" y1="198.70" x2="433.00" y2="218.50" stroke="#b02828" stroke-width="1.2" /><line x1="430.00" y1="198.70" x2="436.00" y2="198.70" stroke="#b02828" stroke-width="1.2" /><line x1="430.00" y1="218.50" x2="436.00" y2="218.50" stroke="#b02828" stroke-width="1.2" /><path d="M433.00 204.00L437.60 208.60L433.00 213.20L428.40 208.60Z" fill="#aa1c1c"/><line x1="435.00" y1="204.70" x2="449.50" y2="204.70" stroke="#b02828" stroke-width="1.2" /><line x1="435.00" y1="201.70" x2="435.00" y2="207.70" stroke="#b02828" stroke-width="1.2" /><line x1="449.50" y1="201.70" x2="449.50" y2="207.70" stroke="#b02828" stroke-width="1.2" /><line x1="441.80" y1="187.70" x2="441.80" y2="221.80" stroke="#b02828" stroke-width="1.2" /><line x1="438.80" y1="187.70" x2="444.80" y2="187.70" stroke="#b02828" stroke-width="1.2" /><line x1="438.80" y1="221.80" x2="444.80" y2="221.80" stroke="#b02828" stroke-width="1.2" /><path d="M441.80 200.10L446.40 204.70L441.80 209.30L437.20 204.70Z" fill="#aa1c1c"/><line x1="430.70" y1="219.20" x2="442.90" y2="219.20" stroke="#b02828" stroke-width="1.2" /><line x1="430.70" y1="216.20" x2="430.70" y2="222.20" stroke="#b02828" stroke-width="1.2" /><line x1="442.90" y1="216.20" x2="442.90" y2="222.20" stroke="#b02828" stroke-width="1.2" /><line x1="436.30" y1="208.60" x2="436.30" y2="235.00" stroke="#b02828" stroke-width="1.2" /><line x1="433.30" y1="208.60" x2="439.30" y2="208.60" stroke="#b02828" stroke-width="1.2" /><line x1="433.30" y1="235.00" x2="439.30" y2="235.00" stroke="#b02828" stroke-width="1.2" /><path d="M436.30 214.60L440.90 219.20L436.30 223.80L431.70 219.20Z" fill="#aa1c1c"/><line x1="424.30" y1="146.10" x2="450.00" y2="146.10" stroke="#b02828" stroke-width="1.2" /><line x1="424.30" y1="143.10" x2="424.30" y2="149.10" stroke="#b02828" stroke-width="1.2" /><line x1="450.00" y1="143.10" x2="450.00" y2="149.10" stroke="#b02828" stroke-width="1.2" /><line x1="439.00" y1="125.70" x2="439.00" y2="165.70" stroke="#b02828" stroke-width="1.2" /><line x1="436.00" y1="125.70" x2="442.00" y2="125.70" stroke="#b02828" stroke-width="1.2" /><line x1="436.00" y1="165.70" x2="442.00" y2="165.70" stroke="#b02828" stroke-width="1.2" /><path d="M439.00 141.50L443.60 146.10L439.00 150.70L434.40 146.10Z" fill="#aa1c1c"/><path d="M449.60 139.20L454.20 143.80L449.60 148.40L445.00 143.80Z" fill="#aa1c1c"/><line x1="434.70" y1="156.60" x2="471.80" y2="156.60" stroke="#b02828" stroke-width="1.2" /><line x1="434.70" y1="153.60" x2="434.70" y2="159.60" stroke="#b02828" stroke-width="1.2" /><line x1="471.80" y1="153.60" x2="471.80" y2="159.60" stroke="#b02828" stroke-width="1.2" /><line x1="453.30" y1="123.50" x2="453.30" y2="189.60" stroke="#b02828" stroke-width="1.2" /><line x1="450.30" y1="123.50" x2="456.30" y2="123.50" stroke="#b02828" stroke-width="1.2" /><line x1="450.30" y1="189.60" x2="456.30" y2="189.60" stroke="#b02828" stroke-width="1.2" /><path d="M453.30 152.00L457.90 156.60L453.30 161.20L448.70 156.60Z" fill="#aa1c1c"/><line x1="455.00" y1="150.40" x2="473.00" y2="150.40" stroke="#b02828" stroke-width="1.2" /><line x1="455.00" y1="147.40" x2="455.00" y2="153.40" stroke="#b02828" stroke-width="1.2" /><line x1="473.00" y1="147.40" x2="473.00" y2="153.40" stroke="#b02828" stroke-width="1.2" /><line x1="464.00" y1="124.50" x2="464.00" y2="175.70" stroke="#b02828" stroke-width="1.2" /><line x1="461.00" y1="124.50" x2="467.00" y2="124.50" stroke="#b02828" stroke-width="1.2" /><line x1="461.00" y1="175.70" x2="467.00" y2="175.70" stroke="#b02828" stroke-width="1.2" /><path d="M464.00 145.80L468.60 150.40L464.00 155.00L459.40 150.40Z" fill="#aa1c1c"/><line x1="461.50" y1="140.90" x2="474.40" y2="140.90" stroke="#b02828" stroke-width="1.2" /><line x1="461.50" y1="137.90" x2="461.50" y2="143.90" stroke="#b02828" stroke-width="1.2" /><line x1="474.40" y1="137.90" x2="474.40" y2="143.90" stroke="#b02828" stroke-width="1.2" /><path d="M468.00 136.30L472.60 140.90L468.00 145.50L463.40 140.90Z" fill="#aa1c1c"/><line x1="476.50" y1="150.00" x2="489.50" y2="150.00" stroke="#b02828" stroke-width="1.2" /><line x1="476.50" y1="147.00" x2="476.50" y2="153.00" stroke="#b02828" stroke-width="1.2" /><line x1="489.50" y1="147.00" x2="489.50" y2="153.00" stroke="#b02828" stroke-width="1.2" /><path d="M483.30 145.40L487.90 150.00L483.30 154.60L478.70 150.00Z" fill="#aa1c1c"/><path d="M506.20 152.80L510.80 157.40L506.20 162.00L501.60 157.40Z" fill="#aa1c1c"/><path d="M513.40 150.20L518.00 154.80L513.40 159.40L508.80 154.80Z" fill="#aa1c1c"/><path d="M517.70 141.70L522.30 146.30L517.70 150.90L513.10 146.30Z" fill="#aa1c1c"/><path d="M519.80 146.70L524.40 151.30L519.80 155.90L515.20 151.30Z" fill="#aa1c1c"/><line x1="521.00" y1="143.80" x2="541.00" y2="143.80" stroke="#b02828" stroke-width="1.2" /><line x1="521.00" y1="140.80" x2="521.00" y2="146.80" stroke="#b02828" stroke-width="1.2" /><line x1="541.00" y1="140.80" x2="541.00" y2="146.80" stroke="#b02828" stroke-width="1.2" /><path d="M531.10 139.20L535.70 143.80L531.10 148.40L526.50 143.80Z" fill="#aa1c1c"/><line x1="522.60" y1="165.40" x2="536.80" y2="165.40" stroke="#b02828" stroke-width="1.2" /><line x1="522.60" y1="162.40" x2="522.60" y2="168.40" stroke="#b02828" stroke-width="1.2" /><line x1="536.80" y1="162.40" x2="536.80" y2="168.40" stroke="#b02828" stroke-width="1.2" /><line x1="529.70" y1="156.20" x2="529.70" y2="173.20" stroke="#b02828" stroke-width="1.2" /><line x1="526.70" y1="156.20" x2="532.70" y2="156.20" stroke="#b02828" stroke-width="1.2" /><line x1="526.70" y1="173.20" x2="532.70" y2="173.20" stroke="#b02828" stroke-width="1.2" /><path d="M529.70 160.80L534.30 165.40L529.70 170.00L525.10 165.40Z" fill="#aa1c1c"/><line x1="515.70" y1="173.20" x2="525.00" y2="173.20" stroke="#b02828" stroke-width="1.2" /><line x1="515.70" y1="170.20" x2="515.70" y2="176.20" stroke="#b02828" stroke-width="1.2" /><line x1="525.00" y1="170.20" x2="525.00" y2="176.20" stroke="#b02828" stroke-width="1.2" /><line x1="519.80" y1="159.80" x2="519.80" y2="186.60" stroke="#b02828" stroke-width="1.2" /><line x1="516.80" y1="159.80" x2="522.80" y2="159.80" stroke="#b02828" stroke-width="1.2" /><line x1="516.80" y1="186.60" x2="522.80" y2="186.60" stroke="#b02828" stroke-width="1.2" /><path d="M519.80 168.60L524.40 173.20L519.80 177.80L515.20 173.20Z" fill="#aa1c1c"/><line x1="496.30" y1="127.60" x2="516.00" y2="127.60" stroke="#b02828" stroke-width="1.2" /><line x1="496.30" y1="124.60" x2="496.30" y2="130.60" stroke="#b02828" stroke-width="1.2" /><line x1="516.00" y1="124.60" x2="516.00" y2="130.60" stroke="#b02828" stroke-width="1.2" /><path d="M509.50 123.00L514.10 127.60L509.50 132.20L504.90 127.60Z" fill="#aa1c1c"/><line x1="515.10" y1="127.40" x2="532.70" y2="127.40" stroke="#b02828" stroke-width="1.2" /><line x1="515.10" y1="124.40" x2="515.10" y2="130.40" stroke="#b02828" stroke-width="1.2" /><line x1="532.70" y1="124.40" x2="532.70" y2="130.40" stroke="#b02828" stroke-width="1.2" /><path d="M523.90 122.80L528.50 127.40L523.90 132.00L519.30 127.40Z" fill="#aa1c1c"/><path d="M550.70 129.00L555.30 133.60L550.70 138.20L546.10 133.60Z" fill="#aa1c1c"/><line x1="540.60" y1="140.20" x2="572.20" y2="140.20" stroke="#b02828" stroke-width="1.2" /><line x1="540.60" y1="137.20" x2="540.60" y2="143.20" stroke="#b02828" stroke-width="1.2" /><line x1="572.20" y1="137.20" x2="572.20" y2="143.20" stroke="#b02828" stroke-width="1.2" /><path d="M556.30 135.60L560.90 140.20L556.30 144.80L551.70 140.20Z" fill="#aa1c1c"/><line x1="399.90" y1="191.10" x2="414.70" y2="191.10" stroke="#1a1a8c" stroke-width="1.2" /><line x1="399.90" y1="188.10" x2="399.90" y2="194.10" stroke="#1a1a8c" stroke-width="1.2" /><line x1="414.70" y1="188.10" x2="414.70" y2="194.10" stroke="#1a1a8c" stroke-width="1.2" /><line x1="406.90" y1="184.80" x2="406.90" y2="197.20" stroke="#1a1a8c" stroke-width="1.2" /><line x1="403.90" y1="184.80" x2="409.90" y2="184.80" stroke="#1a1a8c" stroke-width="1.2" /><line x1="403.90" y1="197.20" x2="409.90" y2="197.20" stroke="#1a1a8c" stroke-width="1.2" /><circle cx="406.90" cy="191.10" r="4.9" fill="#06067e"/><line x1="427.80" y1="136.80" x2="451.40" y2="136.80" stroke="#1a1a8c" stroke-width="1.2" /><line x1="427.80" y1="133.80" x2="427.80" y2="139.80" stroke="#1a1a8c" stroke-width="1.2" /><line x1="451.40" y1="133.80" x2="451.40" y2="139.80" stroke="#1a1a8c" stroke-width="1.2" /><line x1="439.20" y1="130.00" x2="439.20" y2="143.00" stroke="#1a1a8c" stroke-width="1.2" /><line x1="436.20" y1="130.00" x2="442.20" y2="130.00" stroke="#1a1a8c" stroke-width="1.2" /><line x1="436.20" y1="143.00" x2="442.20" y2="143.00" stroke="#1a1a8c" stroke-width="1.2" /><circle cx="439.20" cy="136.80" r="4.9" fill="#06067e"/><line x1="439.00" y1="152.80" x2="451.00" y2="152.80" stroke="#1a1a8c" stroke-width="1.2" /><line x1="439.00" y1="149.80" x2="439.00" y2="155.80" stroke="#1a1a8c" stroke-width="1.2" /><line x1="451.00" y1="149.80" x2="451.00" y2="155.80" stroke="#1a1a8c" stroke-width="1.2" /><line x1="445.00" y1="146.00" x2="445.00" y2="164.40" stroke="#1a1a8c" stroke-width="1.2" /><line x1="442.00" y1="146.00" x2="448.00" y2="146.00" stroke="#1a1a8c" stroke-width="1.2" /><line x1="442.00" y1="164.40" x2="448.00" y2="164.40" stroke="#1a1a8c" stroke-width="1.2" /><circle cx="445.00" cy="152.80" r="4.9" fill="#06067e"/><line x1="477.00" y1="155.10" x2="490.30" y2="155.10" stroke="#1a1a8c" stroke-width="1.2" /><line x1="477.00" y1="152.10" x2="477.00" y2="158.10" stroke="#1a1a8c" stroke-width="1.2" /><line x1="490.30" y1="152.10" x2="490.30" y2="158.10" stroke="#1a1a8c" stroke-width="1.2" /><line x1="482.90" y1="138.50" x2="482.90" y2="170.80" stroke="#1a1a8c" stroke-width="1.2" /><line x1="479.90" y1="138.50" x2="485.90" y2="138.50" stroke="#1a1a8c" stroke-width="1.2" /><line x1="479.90" y1="170.80" x2="485.90" y2="170.80" stroke="#1a1a8c" stroke-width="1.2" /><circle cx="482.90" cy="155.10" r="4.9" fill="#06067e"/><line x1="493.00" y1="147.20" x2="505.30" y2="147.20" stroke="#1a1a8c" stroke-width="1.2" /><line x1="493.00" y1="144.20" x2="493.00" y2="150.20" stroke="#1a1a8c" stroke-width="1.2" /><line x1="505.30" y1="144.20" x2="505.30" y2="150.20" stroke="#1a1a8c" stroke-width="1.2" /><line x1="499.50" y1="138.50" x2="499.50" y2="154.50" stroke="#1a1a8c" stroke-width="1.2" /><line x1="496.50" y1="138.50" x2="502.50" y2="138.50" stroke="#1a1a8c" stroke-width="1.2" /><line x1="496.50" y1="154.50" x2="502.50" y2="154.50" stroke="#1a1a8c" stroke-width="1.2" /><circle cx="499.50" cy="147.20" r="4.9" fill="#06067e"/><line x1="486.50" y1="174.00" x2="500.30" y2="174.00" stroke="#1a1a8c" stroke-width="1.2" /><line x1="486.50" y1="171.00" x2="486.50" y2="177.00" stroke="#1a1a8c" stroke-width="1.2" /><line x1="500.30" y1="171.00" x2="500.30" y2="177.00" stroke="#1a1a8c" stroke-width="1.2" /><line x1="493.70" y1="159.20" x2="493.70" y2="188.30" stroke="#1a1a8c" stroke-width="1.2" /><line x1="490.70" y1="159.20" x2="496.70" y2="159.20" stroke="#1a1a8c" stroke-width="1.2" /><line x1="490.70" y1="188.30" x2="496.70" y2="188.30" stroke="#1a1a8c" stroke-width="1.2" /><circle cx="493.70" cy="174.00" r="4.9" fill="#06067e"/>
</g>
<rect x="60" y="0.7" width="268.3" height="267.7" fill="none" stroke="#000" stroke-width="1.45"/><line x1="65.35" y1="268.40" x2="65.35" y2="265.90" stroke="#000" stroke-width="1.2" /><line x1="65.35" y1="0.70" x2="65.35" y2="3.20" stroke="#000" stroke-width="1.2" /><line x1="79.22" y1="268.40" x2="79.22" y2="265.90" stroke="#000" stroke-width="1.2" /><line x1="79.22" y1="0.70" x2="79.22" y2="3.20" stroke="#000" stroke-width="1.2" /><line x1="93.10" y1="268.40" x2="93.10" y2="263.40" stroke="#000" stroke-width="1.2" /><line x1="93.10" y1="0.70" x2="93.10" y2="5.70" stroke="#000" stroke-width="1.2" /><line x1="106.97" y1="268.40" x2="106.97" y2="265.90" stroke="#000" stroke-width="1.2" /><line x1="106.97" y1="0.70" x2="106.97" y2="3.20" stroke="#000" stroke-width="1.2" /><line x1="120.85" y1="268.40" x2="120.85" y2="265.90" stroke="#000" stroke-width="1.2" /><line x1="120.85" y1="0.70" x2="120.85" y2="3.20" stroke="#000" stroke-width="1.2" /><line x1="134.72" y1="268.40" x2="134.72" y2="265.90" stroke="#000" stroke-width="1.2" /><line x1="134.72" y1="0.70" x2="134.72" y2="3.20" stroke="#000" stroke-width="1.2" /><line x1="148.60" y1="268.40" x2="148.60" y2="263.40" stroke="#000" stroke-width="1.2" /><line x1="148.60" y1="0.70" x2="148.60" y2="5.70" stroke="#000" stroke-width="1.2" /><line x1="162.47" y1="268.40" x2="162.47" y2="265.90" stroke="#000" stroke-width="1.2" /><line x1="162.47" y1="0.70" x2="162.47" y2="3.20" stroke="#000" stroke-width="1.2" /><line x1="176.35" y1="268.40" x2="176.35" y2="265.90" stroke="#000" stroke-width="1.2" /><line x1="176.35" y1="0.70" x2="176.35" y2="3.20" stroke="#000" stroke-width="1.2" /><line x1="190.22" y1="268.40" x2="190.22" y2="265.90" stroke="#000" stroke-width="1.2" /><line x1="190.22" y1="0.70" x2="190.22" y2="3.20" stroke="#000" stroke-width="1.2" /><line x1="204.10" y1="268.40" x2="204.10" y2="263.40" stroke="#000" stroke-width="1.2" /><line x1="204.10" y1="0.70" x2="204.10" y2="5.70" stroke="#000" stroke-width="1.2" /><line x1="217.97" y1="268.40" x2="217.97" y2="265.90" stroke="#000" stroke-width="1.2" /><line x1="217.97" y1="0.70" x2="217.97" y2="3.20" stroke="#000" stroke-width="1.2" /><line x1="231.85" y1="268.40" x2="231.85" y2="265.90" stroke="#000" stroke-width="1.2" /><line x1="231.85" y1="0.70" x2="231.85" y2="3.20" stroke="#000" stroke-width="1.2" /><line x1="245.72" y1="268.40" x2="245.72" y2="265.90" stroke="#000" stroke-width="1.2" /><line x1="245.72" y1="0.70" x2="245.72" y2="3.20" stroke="#000" stroke-width="1.2" /><line x1="259.60" y1="268.40" x2="259.60" y2="263.40" stroke="#000" stroke-width="1.2" /><line x1="259.60" y1="0.70" x2="259.60" y2="5.70" stroke="#000" stroke-width="1.2" /><line x1="273.48" y1="268.40" x2="273.48" y2="265.90" stroke="#000" stroke-width="1.2" /><line x1="273.48" y1="0.70" x2="273.48" y2="3.20" stroke="#000" stroke-width="1.2" /><line x1="287.35" y1="268.40" x2="287.35" y2="265.90" stroke="#000" stroke-width="1.2" /><line x1="287.35" y1="0.70" x2="287.35" y2="3.20" stroke="#000" stroke-width="1.2" /><line x1="301.23" y1="268.40" x2="301.23" y2="265.90" stroke="#000" stroke-width="1.2" /><line x1="301.23" y1="0.70" x2="301.23" y2="3.20" stroke="#000" stroke-width="1.2" /><line x1="315.10" y1="268.40" x2="315.10" y2="263.40" stroke="#000" stroke-width="1.2" /><line x1="315.10" y1="0.70" x2="315.10" y2="5.70" stroke="#000" stroke-width="1.2" /><line x1="60.00" y1="256.85" x2="62.80" y2="256.85" stroke="#000" stroke-width="1.2" /><line x1="328.30" y1="256.85" x2="325.50" y2="256.85" stroke="#000" stroke-width="1.2" /><line x1="60.00" y1="245.20" x2="65.50" y2="245.20" stroke="#000" stroke-width="1.2" /><line x1="328.30" y1="245.20" x2="322.80" y2="245.20" stroke="#000" stroke-width="1.2" /><line x1="60.00" y1="233.55" x2="62.80" y2="233.55" stroke="#000" stroke-width="1.2" /><line x1="328.30" y1="233.55" x2="325.50" y2="233.55" stroke="#000" stroke-width="1.2" /><line x1="60.00" y1="221.90" x2="62.80" y2="221.90" stroke="#000" stroke-width="1.2" /><line x1="328.30" y1="221.90" x2="325.50" y2="221.90" stroke="#000" stroke-width="1.2" /><line x1="60.00" y1="210.25" x2="62.80" y2="210.25" stroke="#000" stroke-width="1.2" /><line x1="328.30" y1="210.25" x2="325.50" y2="210.25" stroke="#000" stroke-width="1.2" /><line x1="60.00" y1="198.60" x2="62.80" y2="198.60" stroke="#000" stroke-width="1.2" /><line x1="328.30" y1="198.60" x2="325.50" y2="198.60" stroke="#000" stroke-width="1.2" /><line x1="60.00" y1="186.95" x2="65.50" y2="186.95" stroke="#000" stroke-width="1.2" /><line x1="328.30" y1="186.95" x2="322.80" y2="186.95" stroke="#000" stroke-width="1.2" /><line x1="60.00" y1="175.30" x2="62.80" y2="175.30" stroke="#000" stroke-width="1.2" /><line x1="328.30" y1="175.30" x2="325.50" y2="175.30" stroke="#000" stroke-width="1.2" /><line x1="60.00" y1="163.65" x2="62.80" y2="163.65" stroke="#000" stroke-width="1.2" /><line x1="328.30" y1="163.65" x2="325.50" y2="163.65" stroke="#000" stroke-width="1.2" /><line x1="60.00" y1="152.00" x2="62.80" y2="152.00" stroke="#000" stroke-width="1.2" /><line x1="328.30" y1="152.00" x2="325.50" y2="152.00" stroke="#000" stroke-width="1.2" /><line x1="60.00" y1="140.35" x2="62.80" y2="140.35" stroke="#000" stroke-width="1.2" /><line x1="328.30" y1="140.35" x2="325.50" y2="140.35" stroke="#000" stroke-width="1.2" /><line x1="60.00" y1="128.70" x2="65.50" y2="128.70" stroke="#000" stroke-width="1.2" /><line x1="328.30" y1="128.70" x2="322.80" y2="128.70" stroke="#000" stroke-width="1.2" /><line x1="60.00" y1="117.05" x2="62.80" y2="117.05" stroke="#000" stroke-width="1.2" /><line x1="328.30" y1="117.05" x2="325.50" y2="117.05" stroke="#000" stroke-width="1.2" /><line x1="60.00" y1="105.40" x2="62.80" y2="105.40" stroke="#000" stroke-width="1.2" /><line x1="328.30" y1="105.40" x2="325.50" y2="105.40" stroke="#000" stroke-width="1.2" /><line x1="60.00" y1="93.75" x2="62.80" y2="93.75" stroke="#000" stroke-width="1.2" /><line x1="328.30" y1="93.75" x2="325.50" y2="93.75" stroke="#000" stroke-width="1.2" /><line x1="60.00" y1="82.10" x2="62.80" y2="82.10" stroke="#000" stroke-width="1.2" /><line x1="328.30" y1="82.10" x2="325.50" y2="82.10" stroke="#000" stroke-width="1.2" /><line x1="60.00" y1="70.45" x2="65.50" y2="70.45" stroke="#000" stroke-width="1.2" /><line x1="328.30" y1="70.45" x2="322.80" y2="70.45" stroke="#000" stroke-width="1.2" /><line x1="60.00" y1="58.80" x2="62.80" y2="58.80" stroke="#000" stroke-width="1.2" /><line x1="328.30" y1="58.80" x2="325.50" y2="58.80" stroke="#000" stroke-width="1.2" /><line x1="60.00" y1="47.15" x2="62.80" y2="47.15" stroke="#000" stroke-width="1.2" /><line x1="328.30" y1="47.15" x2="325.50" y2="47.15" stroke="#000" stroke-width="1.2" /><line x1="60.00" y1="35.50" x2="62.80" y2="35.50" stroke="#000" stroke-width="1.2" /><line x1="328.30" y1="35.50" x2="325.50" y2="35.50" stroke="#000" stroke-width="1.2" /><line x1="60.00" y1="23.85" x2="62.80" y2="23.85" stroke="#000" stroke-width="1.2" /><line x1="328.30" y1="23.85" x2="325.50" y2="23.85" stroke="#000" stroke-width="1.2" /><line x1="60.00" y1="12.20" x2="65.50" y2="12.20" stroke="#000" stroke-width="1.2" /><line x1="328.30" y1="12.20" x2="322.80" y2="12.20" stroke="#000" stroke-width="1.2" /><rect x="328.3" y="0.7" width="268.3" height="267.7" fill="none" stroke="#000" stroke-width="1.45"/><line x1="333.55" y1="268.40" x2="333.55" y2="265.90" stroke="#000" stroke-width="1.2" /><line x1="333.55" y1="0.70" x2="333.55" y2="3.20" stroke="#000" stroke-width="1.2" /><line x1="347.43" y1="268.40" x2="347.43" y2="265.90" stroke="#000" stroke-width="1.2" /><line x1="347.43" y1="0.70" x2="347.43" y2="3.20" stroke="#000" stroke-width="1.2" /><line x1="361.30" y1="268.40" x2="361.30" y2="263.40" stroke="#000" stroke-width="1.2" /><line x1="361.30" y1="0.70" x2="361.30" y2="5.70" stroke="#000" stroke-width="1.2" /><line x1="375.18" y1="268.40" x2="375.18" y2="265.90" stroke="#000" stroke-width="1.2" /><line x1="375.18" y1="0.70" x2="375.18" y2="3.20" stroke="#000" stroke-width="1.2" /><line x1="389.05" y1="268.40" x2="389.05" y2="265.90" stroke="#000" stroke-width="1.2" /><line x1="389.05" y1="0.70" x2="389.05" y2="3.20" stroke="#000" stroke-width="1.2" /><line x1="402.93" y1="268.40" x2="402.93" y2="265.90" stroke="#000" stroke-width="1.2" /><line x1="402.93" y1="0.70" x2="402.93" y2="3.20" stroke="#000" stroke-width="1.2" /><line x1="416.80" y1="268.40" x2="416.80" y2="263.40" stroke="#000" stroke-width="1.2" /><line x1="416.80" y1="0.70" x2="416.80" y2="5.70" stroke="#000" stroke-width="1.2" /><line x1="430.68" y1="268.40" x2="430.68" y2="265.90" stroke="#000" stroke-width="1.2" /><line x1="430.68" y1="0.70" x2="430.68" y2="3.20" stroke="#000" stroke-width="1.2" /><line x1="444.55" y1="268.40" x2="444.55" y2="265.90" stroke="#000" stroke-width="1.2" /><line x1="444.55" y1="0.70" x2="444.55" y2="3.20" stroke="#000" stroke-width="1.2" /><line x1="458.43" y1="268.40" x2="458.43" y2="265.90" stroke="#000" stroke-width="1.2" /><line x1="458.43" y1="0.70" x2="458.43" y2="3.20" stroke="#000" stroke-width="1.2" /><line x1="472.30" y1="268.40" x2="472.30" y2="263.40" stroke="#000" stroke-width="1.2" /><line x1="472.30" y1="0.70" x2="472.30" y2="5.70" stroke="#000" stroke-width="1.2" /><line x1="486.18" y1="268.40" x2="486.18" y2="265.90" stroke="#000" stroke-width="1.2" /><line x1="486.18" y1="0.70" x2="486.18" y2="3.20" stroke="#000" stroke-width="1.2" /><line x1="500.05" y1="268.40" x2="500.05" y2="265.90" stroke="#000" stroke-width="1.2" /><line x1="500.05" y1="0.70" x2="500.05" y2="3.20" stroke="#000" stroke-width="1.2" /><line x1="513.92" y1="268.40" x2="513.92" y2="265.90" stroke="#000" stroke-width="1.2" /><line x1="513.92" y1="0.70" x2="513.92" y2="3.20" stroke="#000" stroke-width="1.2" /><line x1="527.80" y1="268.40" x2="527.80" y2="263.40" stroke="#000" stroke-width="1.2" /><line x1="527.80" y1="0.70" x2="527.80" y2="5.70" stroke="#000" stroke-width="1.2" /><line x1="541.67" y1="268.40" x2="541.67" y2="265.90" stroke="#000" stroke-width="1.2" /><line x1="541.67" y1="0.70" x2="541.67" y2="3.20" stroke="#000" stroke-width="1.2" /><line x1="555.55" y1="268.40" x2="555.55" y2="265.90" stroke="#000" stroke-width="1.2" /><line x1="555.55" y1="0.70" x2="555.55" y2="3.20" stroke="#000" stroke-width="1.2" /><line x1="569.42" y1="268.40" x2="569.42" y2="265.90" stroke="#000" stroke-width="1.2" /><line x1="569.42" y1="0.70" x2="569.42" y2="3.20" stroke="#000" stroke-width="1.2" /><line x1="583.30" y1="268.40" x2="583.30" y2="263.40" stroke="#000" stroke-width="1.2" /><line x1="583.30" y1="0.70" x2="583.30" y2="5.70" stroke="#000" stroke-width="1.2" /><line x1="328.30" y1="256.85" x2="331.10" y2="256.85" stroke="#000" stroke-width="1.2" /><line x1="596.60" y1="256.85" x2="593.80" y2="256.85" stroke="#000" stroke-width="1.2" /><line x1="328.30" y1="245.20" x2="333.80" y2="245.20" stroke="#000" stroke-width="1.2" /><line x1="596.60" y1="245.20" x2="591.10" y2="245.20" stroke="#000" stroke-width="1.2" /><line x1="328.30" y1="233.55" x2="331.10" y2="233.55" stroke="#000" stroke-width="1.2" /><line x1="596.60" y1="233.55" x2="593.80" y2="233.55" stroke="#000" stroke-width="1.2" /><line x1="328.30" y1="221.90" x2="331.10" y2="221.90" stroke="#000" stroke-width="1.2" /><line x1="596.60" y1="221.90" x2="593.80" y2="221.90" stroke="#000" stroke-width="1.2" /><line x1="328.30" y1="210.25" x2="331.10" y2="210.25" stroke="#000" stroke-width="1.2" /><line x1="596.60" y1="210.25" x2="593.80" y2="210.25" stroke="#000" stroke-width="1.2" /><line x1="328.30" y1="198.60" x2="331.10" y2="198.60" stroke="#000" stroke-width="1.2" /><line x1="596.60" y1="198.60" x2="593.80" y2="198.60" stroke="#000" stroke-width="1.2" /><line x1="328.30" y1="186.95" x2="333.80" y2="186.95" stroke="#000" stroke-width="1.2" /><line x1="596.60" y1="186.95" x2="591.10" y2="186.95" stroke="#000" stroke-width="1.2" /><line x1="328.30" y1="175.30" x2="331.10" y2="175.30" stroke="#000" stroke-width="1.2" /><line x1="596.60" y1="175.30" x2="593.80" y2="175.30" stroke="#000" stroke-width="1.2" /><line x1="328.30" y1="163.65" x2="331.10" y2="163.65" stroke="#000" stroke-width="1.2" /><line x1="596.60" y1="163.65" x2="593.80" y2="163.65" stroke="#000" stroke-width="1.2" /><line x1="328.30" y1="152.00" x2="331.10" y2="152.00" stroke="#000" stroke-width="1.2" /><line x1="596.60" y1="152.00" x2="593.80" y2="152.00" stroke="#000" stroke-width="1.2" /><line x1="328.30" y1="140.35" x2="331.10" y2="140.35" stroke="#000" stroke-width="1.2" /><line x1="596.60" y1="140.35" x2="593.80" y2="140.35" stroke="#000" stroke-width="1.2" /><line x1="328.30" y1="128.70" x2="333.80" y2="128.70" stroke="#000" stroke-width="1.2" /><line x1="596.60" y1="128.70" x2="591.10" y2="128.70" stroke="#000" stroke-width="1.2" /><line x1="328.30" y1="117.05" x2="331.10" y2="117.05" stroke="#000" stroke-width="1.2" /><line x1="596.60" y1="117.05" x2="593.80" y2="117.05" stroke="#000" stroke-width="1.2" /><line x1="328.30" y1="105.40" x2="331.10" y2="105.40" stroke="#000" stroke-width="1.2" /><line x1="596.60" y1="105.40" x2="593.80" y2="105.40" stroke="#000" stroke-width="1.2" /><line x1="328.30" y1="93.75" x2="331.10" y2="93.75" stroke="#000" stroke-width="1.2" /><line x1="596.60" y1="93.75" x2="593.80" y2="93.75" stroke="#000" stroke-width="1.2" /><line x1="328.30" y1="82.10" x2="331.10" y2="82.10" stroke="#000" stroke-width="1.2" /><line x1="596.60" y1="82.10" x2="593.80" y2="82.10" stroke="#000" stroke-width="1.2" /><line x1="328.30" y1="70.45" x2="333.80" y2="70.45" stroke="#000" stroke-width="1.2" /><line x1="596.60" y1="70.45" x2="591.10" y2="70.45" stroke="#000" stroke-width="1.2" /><line x1="328.30" y1="58.80" x2="331.10" y2="58.80" stroke="#000" stroke-width="1.2" /><line x1="596.60" y1="58.80" x2="593.80" y2="58.80" stroke="#000" stroke-width="1.2" /><line x1="328.30" y1="47.15" x2="331.10" y2="47.15" stroke="#000" stroke-width="1.2" /><line x1="596.60" y1="47.15" x2="593.80" y2="47.15" stroke="#000" stroke-width="1.2" /><line x1="328.30" y1="35.50" x2="331.10" y2="35.50" stroke="#000" stroke-width="1.2" /><line x1="596.60" y1="35.50" x2="593.80" y2="35.50" stroke="#000" stroke-width="1.2" /><line x1="328.30" y1="23.85" x2="331.10" y2="23.85" stroke="#000" stroke-width="1.2" /><line x1="596.60" y1="23.85" x2="593.80" y2="23.85" stroke="#000" stroke-width="1.2" /><line x1="328.30" y1="12.20" x2="333.80" y2="12.20" stroke="#000" stroke-width="1.2" /><line x1="596.60" y1="12.20" x2="591.10" y2="12.20" stroke="#000" stroke-width="1.2" />

<rect x="77.50" y="287.5" width="9.6" height="1.05" fill="#111"/><text class="t" x="91.50" y="293" font-size="17.5" textLength="19.3" lengthAdjust="spacingAndGlyphs">14</text><rect x="133.00" y="287.5" width="9.6" height="1.05" fill="#111"/><text class="t" x="147.00" y="293" font-size="17.5" textLength="19.3" lengthAdjust="spacingAndGlyphs">16</text><rect x="188.50" y="287.5" width="9.6" height="1.05" fill="#111"/><text class="t" x="202.50" y="293" font-size="17.5" textLength="19.3" lengthAdjust="spacingAndGlyphs">18</text><rect x="244.00" y="287.5" width="9.6" height="1.05" fill="#111"/><text class="t" x="258.00" y="293" font-size="17.5" textLength="19.3" lengthAdjust="spacingAndGlyphs">20</text><rect x="299.50" y="287.5" width="9.6" height="1.05" fill="#111"/><text class="t" x="313.50" y="293" font-size="17.5" textLength="19.3" lengthAdjust="spacingAndGlyphs">22</text><rect x="345.70" y="287.5" width="9.6" height="1.05" fill="#111"/><text class="t" x="359.70" y="293" font-size="17.5" textLength="19.3" lengthAdjust="spacingAndGlyphs">14</text><rect x="401.20" y="287.5" width="9.6" height="1.05" fill="#111"/><text class="t" x="415.20" y="293" font-size="17.5" textLength="19.3" lengthAdjust="spacingAndGlyphs">16</text><rect x="456.70" y="287.5" width="9.6" height="1.05" fill="#111"/><text class="t" x="470.70" y="293" font-size="17.5" textLength="19.3" lengthAdjust="spacingAndGlyphs">18</text><rect x="512.20" y="287.5" width="9.6" height="1.05" fill="#111"/><text class="t" x="526.20" y="293" font-size="17.5" textLength="19.3" lengthAdjust="spacingAndGlyphs">20</text><rect x="567.70" y="287.5" width="9.6" height="1.05" fill="#111"/><text class="t" x="581.70" y="293" font-size="17.5" textLength="19.3" lengthAdjust="spacingAndGlyphs">22</text><text class="t" x="29" y="18.50" font-size="16.8" textLength="24.5" lengthAdjust="spacingAndGlyphs">9.5</text><text class="t" x="29" y="76.75" font-size="16.8" textLength="24.5" lengthAdjust="spacingAndGlyphs">9.0</text><text class="t" x="29" y="135.00" font-size="16.8" textLength="24.5" lengthAdjust="spacingAndGlyphs">8.5</text><text class="t" x="29" y="193.25" font-size="16.8" textLength="24.5" lengthAdjust="spacingAndGlyphs">8.0</text><text class="t" x="29" y="251.50" font-size="16.8" textLength="24.5" lengthAdjust="spacingAndGlyphs">7.5</text>
<g class="t">
<text x="184.5" y="314" font-size="17.8" textLength="12.2" lengthAdjust="spacingAndGlyphs">M</text><text x="197.6" y="316.8" font-size="10.6">B</text>
<text x="452.5" y="314" font-size="17.8" textLength="12.2" lengthAdjust="spacingAndGlyphs">M</text><text x="465.6" y="316.8" font-size="10.6">B</text>
<text x="80.5" y="25" font-size="15.5" textLength="35.5" lengthAdjust="spacingAndGlyphs">KK04</text>
<text x="349" y="25" font-size="15.5" textLength="34" lengthAdjust="spacingAndGlyphs">PT05</text>
</g>
<text class="s" x="92.6" y="58.7" font-size="9.8" textLength="13.2" lengthAdjust="spacingAndGlyphs">Ho</text><text class="s" x="112" y="58.7" font-size="9.8" textLength="9.4" lengthAdjust="spacingAndGlyphs">IX</text>
<g class="t" font-size="16.5">
<text x="248.7" y="213.5" textLength="42.8" lengthAdjust="spacingAndGlyphs">E/S0</text>
<text x="226.6" y="229.2" textLength="64.9" lengthAdjust="spacingAndGlyphs">Sa−Sbc</text>
<text x="235.4" y="245.1" textLength="56.1" lengthAdjust="spacingAndGlyphs">Sc−Im</text>
</g>
<circle cx="303.2" cy="208.8" r="5" fill="#06067e"/>
<rect x="299.2" y="220.7" width="8" height="8" fill="#c9a77f"/>
<path d="M303.2 235.1L308.7 240.6L303.2 246.1L297.7 240.6Z" fill="#aa1c1c"/>
<g transform="translate(14.2,213.3) rotate(-90)" class="t" font-size="16.8">
<text x="-1.3" y="0" textLength="19.6" lengthAdjust="spacingAndGlyphs">12</text>
<text x="28.5" y="0" textLength="9.8" lengthAdjust="spacingAndGlyphs">+</text>
<text x="47.5" y="0" textLength="26.4" lengthAdjust="spacingAndGlyphs">log</text>
<text x="84" y="0" textLength="51.3" lengthAdjust="spacingAndGlyphs">(O/H)</text>
</g>
<g transform="translate(18.9,77.8) rotate(-90)">
<text class="s" x="0" y="0" font-size="11.6" textLength="27.8" lengthAdjust="spacingAndGlyphs">final</text>
</g>

</svg>
</body></html>
